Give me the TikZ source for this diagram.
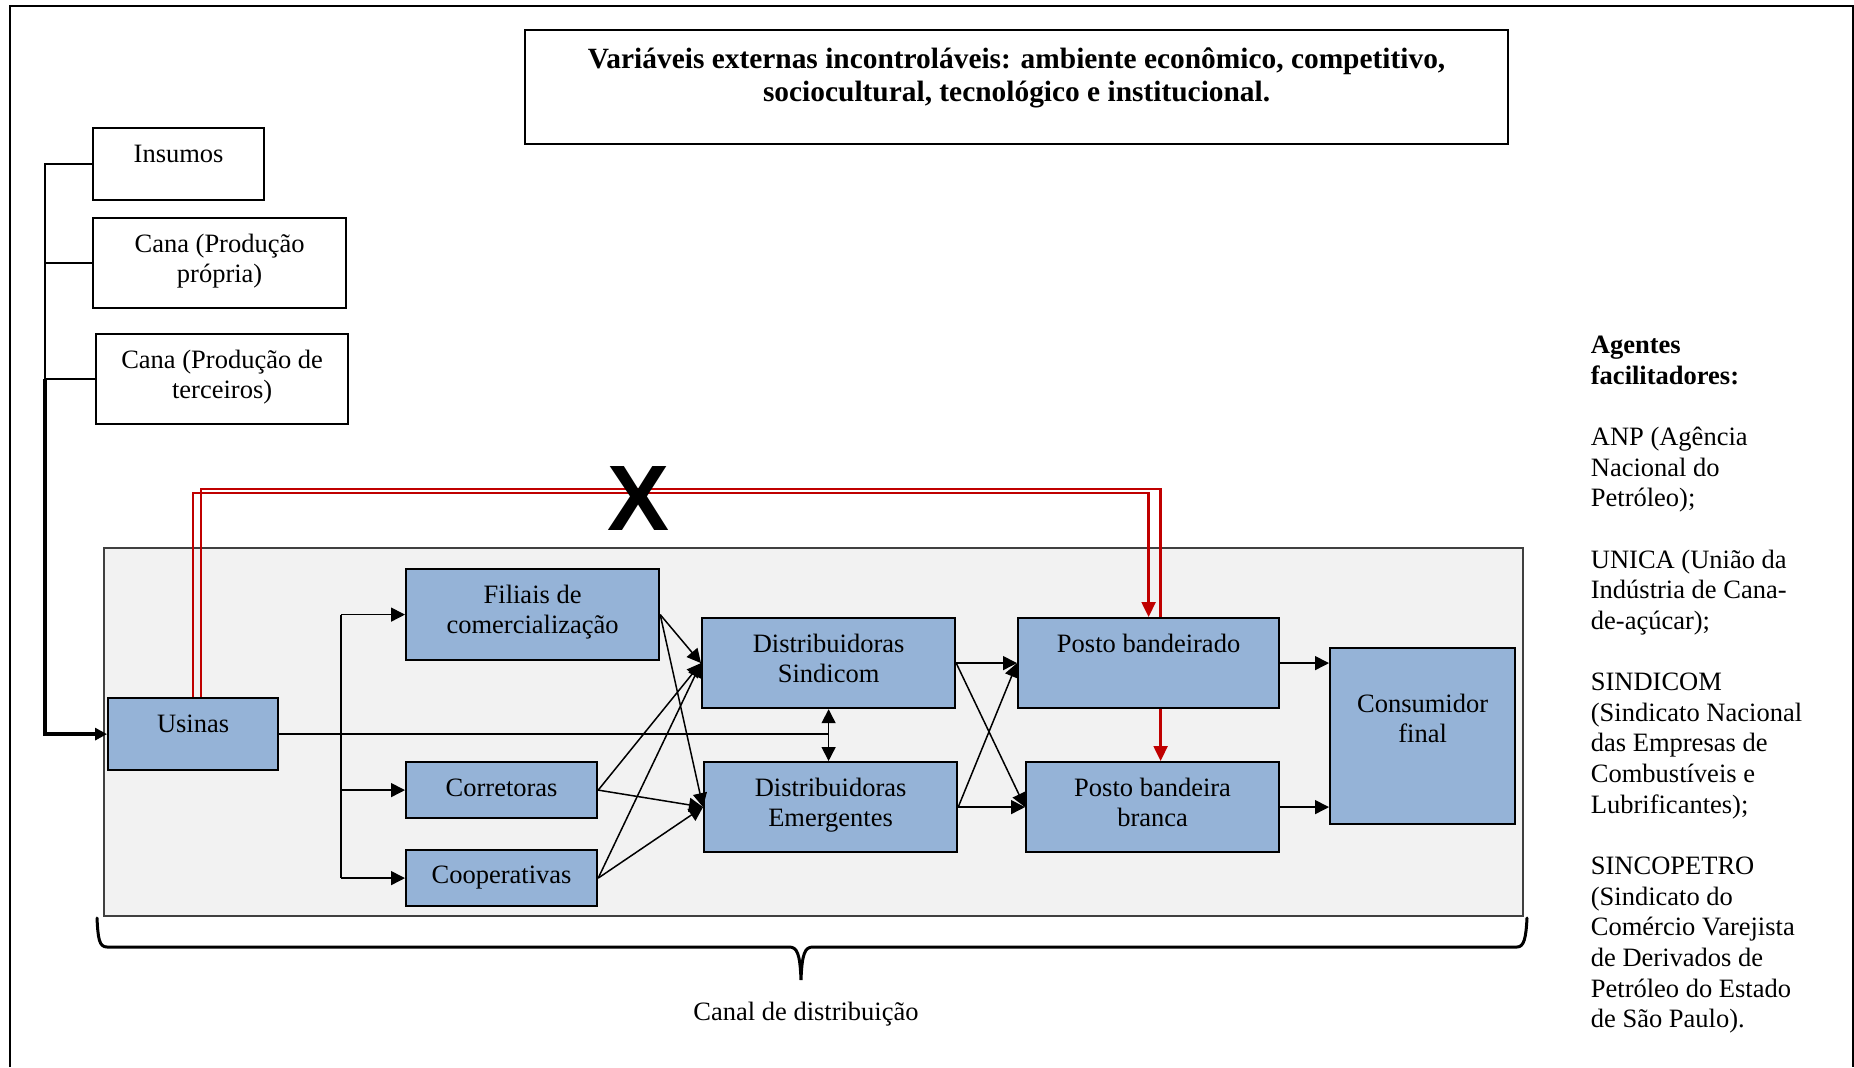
\documentclass[tikz,border=0pt]{standalone}
\usepackage{fontspec}
\setmainfont{Liberation Serif}
\newfontfamily\xsans{Liberation Sans}
\usetikzlibrary{arrows.meta}
\definecolor{boxblue}{RGB}{149,179,215}
\definecolor{panelgray}{RGB}{242,242,242}
\definecolor{linkred}{RGB}{192,0,0}
\newcommand{\firstline}{\rule{0pt}{12pt}}
\begin{document}
\begin{tikzpicture}[x=0.5pt,y=-0.5pt,
  plainbox/.style={draw, line width=1.1pt, fill=white, inner sep=0pt, anchor=north west},
  bluebox/.style={plainbox, fill=boxblue},
  txt/.style={inner sep=0pt, align=center, anchor=north, font=\fontsize{13.25pt}{15.2pt}\selectfont},
  link/.style={line width=0.75pt},
  arr/.style={link, -{Triangle[length=7pt,width=7pt]}},
  biarr/.style={link, {Triangle[length=7pt,width=7pt]}-{Triangle[length=7pt,width=7pt]}},
  redlink/.style={draw=linkred, line width=1.2pt},
  redarr/.style={redlink, -{Triangle[length=7.5pt,width=7pt]}}
]
\useasboundingbox (0,0) rectangle (1854,1067);
\fill[white] (0,0) rectangle (1854,1067);

% outer frame (open at the bottom)
\draw[line width=1pt] (10,1067) -- (10,6) -- (1852.5,6) -- (1852.5,1067);

% title
\node[plainbox, minimum width=491.5pt, minimum height=57pt] (title) at (524,29) {};
\node[txt, yshift=-7.5pt, font=\fontsize{14.7pt}{16.5pt}\selectfont\bfseries] (title-t) at (title.north)
  {\firstline Variáveis externas incontroláveis: ambiente econômico, competitivo,\\ sociocultural, tecnológico e institucional.};

% inputs
\node[plainbox, minimum width=85.5pt, minimum height=36pt] (insumos) at (92,127) {};
\node[txt, yshift=-5.5pt] (insumos-t) at (insumos.north) {\firstline Insumos};
\node[plainbox, minimum width=126.5pt, minimum height=45pt] (canap) at (92,217) {};
\node[txt, yshift=-5.5pt] (canap-t) at (canap.north) {\firstline Cana (Produção\\ própria)};
\node[plainbox, minimum width=126pt, minimum height=45pt] (canat) at (95,333) {};
\node[txt, yshift=-5.5pt] (canat-t) at (canat.north) {\firstline Cana (Produção de\\ terceiros)};

% distribution channel panel
\node[draw=black!75, line width=0.8pt, fill=panelgray, inner sep=0pt, anchor=north west,
      minimum width=709.5pt, minimum height=184pt] (panel) at (103,547) {};

% agents of the channel
\node[bluebox, minimum width=85pt, minimum height=36pt] (usinas) at (107,697) {};
\node[txt, yshift=-5.5pt] (usinas-t) at (usinas.north) {\firstline Usinas};
\node[bluebox, minimum width=126.5pt, minimum height=45.5pt] (filiais) at (405,568) {};
\node[txt, yshift=-5.5pt] (filiais-t) at (filiais.north) {\firstline Filiais de\\ comercialização};
\node[bluebox, minimum width=95.5pt, minimum height=28pt] (corretoras) at (405,761) {};
\node[txt, yshift=-5.5pt] (corretoras-t) at (corretoras.north) {\firstline Corretoras};
\node[bluebox, minimum width=95.5pt, minimum height=28pt] (cooperativas) at (405,849) {};
\node[txt, yshift=-5pt] (cooperativas-t) at (cooperativas.north) {\firstline Cooperativas};
\node[bluebox, minimum width=126.5pt, minimum height=45pt] (dsind) at (701,617) {};
\node[txt, yshift=-5.5pt] (dsind-t) at (dsind.north) {\firstline Distribuidoras\\ Sindicom};
\node[bluebox, minimum width=126.5pt, minimum height=45pt] (demerg) at (703,761) {};
\node[txt, yshift=-5.5pt] (demerg-t) at (demerg.north) {\firstline Distribuidoras\\ Emergentes};
\node[bluebox, minimum width=130.5pt, minimum height=45pt] (pband) at (1017,617) {};
\node[txt, yshift=-5.5pt] (pband-t) at (pband.north) {\firstline Posto bandeirado};
\node[bluebox, minimum width=126.5pt, minimum height=45pt] (pbranca) at (1025,761) {};
\node[txt, yshift=-5.5pt] (pbranca-t) at (pbranca.north) {\firstline Posto bandeira\\ branca};
\node[bluebox, minimum width=92.5pt, minimum height=88pt] (consumidor) at (1329,647) {};
\node[txt, yshift=-20.5pt] (consumidor-t) at (consumidor.north) {\firstline Consumidor\\ final};

% supply lines into the mills
\coordinate (lx) at (45,0);
\draw[line width=0.9pt] (insumos.west) -- (insumos.west -| lx) -- (canat.west -| lx);
\draw[line width=0.9pt] (canap.west) -- (canap.west -| lx);
\draw[line width=0.9pt] (canat.west) -- (canat.west -| lx);
\draw[line width=1.9pt, -{Triangle[length=6pt,width=6pt]}] (canat.west -| lx) |- (usinas.west);

% mills to intermediaries
\draw[link] (usinas.east) -- (usinas.east -| dsind.south);
\draw[biarr] (dsind.south) -- (dsind.south |- demerg.north);
\coordinate (bx) at (341,733);
\draw[link] (bx |- filiais.west) -- (bx |- cooperativas.west);
\draw[arr] (bx |- filiais.west) -- (filiais.west);
\draw[arr] (bx |- corretoras.west) -- (corretoras.west);
\draw[arr] (bx |- cooperativas.west) -- (cooperativas.west);

% intermediaries to distributors
\foreach \src in {filiais,corretoras,cooperativas}{
  \draw[arr] (\src.east) -- (dsind.west);
  \draw[arr] (\src.east) -- (demerg.west);
}

% distributors to stations
\draw[arr] (dsind.east) -- (pband.west);
\draw[arr] (dsind.east) -- (pbranca.west);
\draw[arr] (demerg.east) -- (pband.west);
\draw[arr] (demerg.east) -- (pbranca.west);

% stations to final consumer
\draw[arr] (pband.east) -- (pband.east -| consumidor.west);
\draw[arr] (pbranca.east) -- (pbranca.east -| consumidor.west);

% direct mill-station link (blocked)
\coordinate (ra) at (0,493);
\coordinate (rb) at (0,489);
\draw[redarr] (usinas.north) -- (usinas.north |- ra) -- (pband.north |- ra) -- (pband.north);
\draw[redlink] ([xshift=4pt]usinas.north) -- ([xshift=4pt]usinas.north |- rb)
  -- ([xshift=6pt]pband.north |- rb) -- ([xshift=6pt]pband.north);
\draw[redarr] ([xshift=6pt]pband.south) -- ([xshift=6pt]pband.south |- pbranca.north);
\node[inner sep=0pt, anchor=base, font=\xsans\bfseries\fontsize{46.5pt}{50pt}\selectfont] (cross) at (638.5,530) {X};

% brace under the channel
\draw[line width=1.5pt, line cap=round]
  (97,918) .. controls (98,938) and (99,947) .. (107,947) -- (789,947)
  .. controls (797,947) and (800,953) .. (801,980)
  .. controls (802,953) and (805,947) .. (813,947) -- (1517,947)
  .. controls (1524,947) and (1526,938) .. (1527,918);
\node[inner sep=0pt, anchor=base, font=\fontsize{13.25pt}{15.2pt}\selectfont] (canal-t) at (806,1020.5) {Canal de distribuição};

% facilitating agents
\node[inner sep=0pt, align=left, anchor=north west, font=\fontsize{13.25pt}{15.33pt}\selectfont] (agentes) at (1590.5,329)
  {\firstline\textbf{Agentes}\\ \textbf{facilitadores:}\\[15.33pt]
   ANP (Agência\\ Nacional do\\ Petróleo);\\[15.33pt]
   UNICA (União da\\ Indústria de Cana-\\ de-açúcar);\\[15.33pt]
   SINDICOM\\ (Sindicato Nacional\\ das Empresas de\\ Combustíveis e\\ Lubrificantes);\\[15.33pt]
   SINCOPETRO\\ (Sindicato do\\ Comércio Varejista\\ de Derivados de\\ Petróleo do Estado\\ de São Paulo).};
\end{tikzpicture}
\end{document}
